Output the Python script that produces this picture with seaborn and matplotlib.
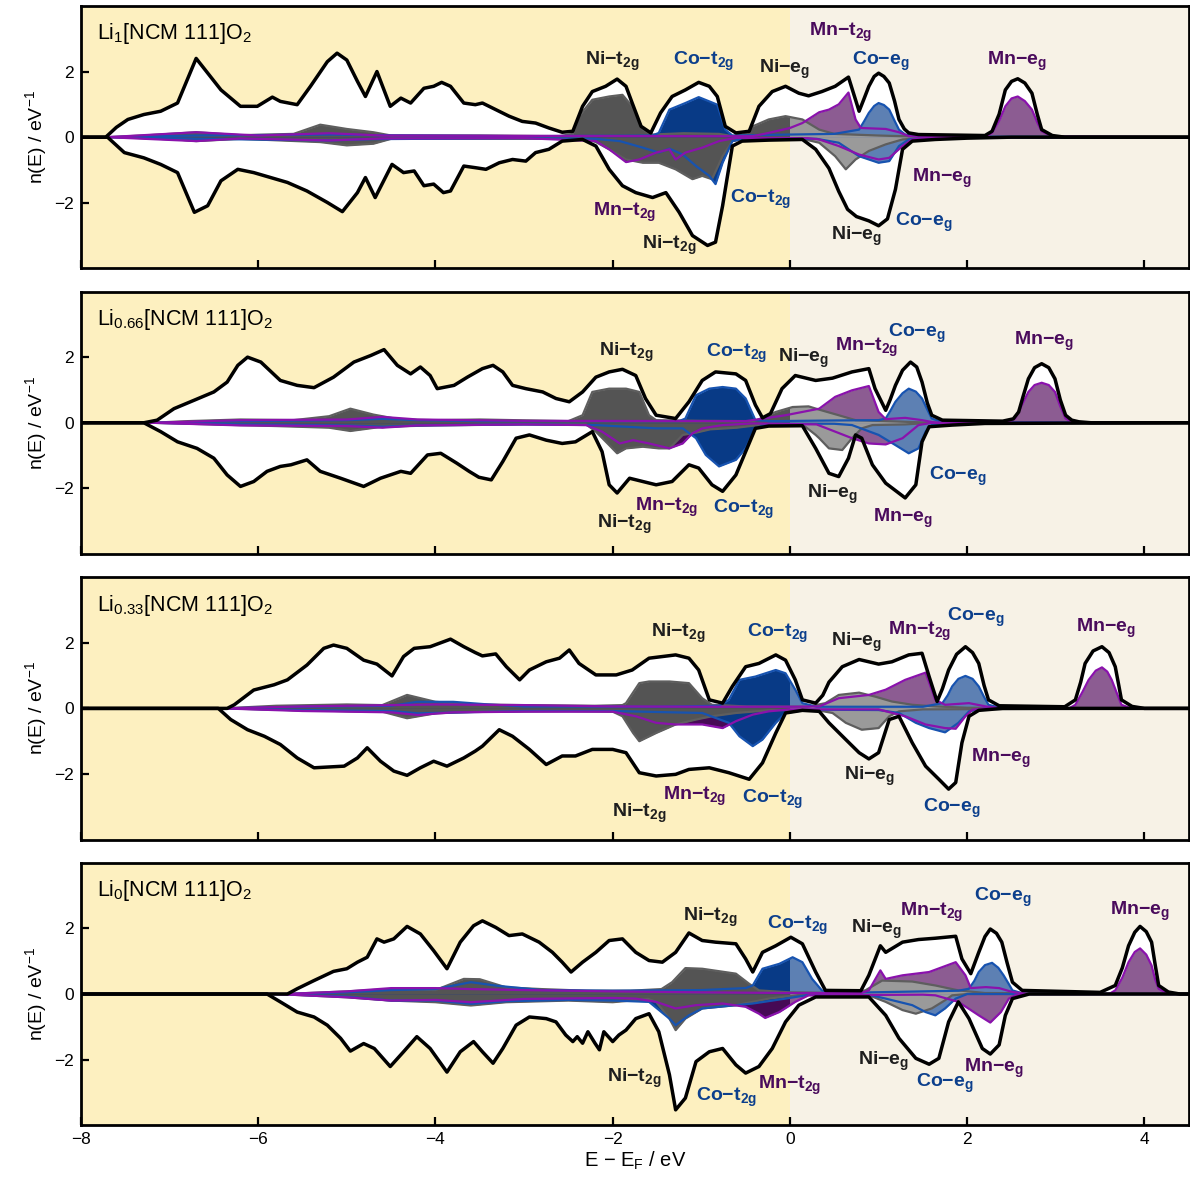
import numpy as np
import pandas as pd
import matplotlib
matplotlib.use("Agg")
import matplotlib.pyplot as plt
from matplotlib.patches import Rectangle
import seaborn as sns

# ---------------- data: (E - E_F, n(E)) pairs, spin-down stored as magnitude ----------------
# panel 1 : Li1
p1_tot_up = [(-8, 0), (-7.72, 0), (-7.6, 0.3), (-7.47, 0.54), (-7.29, 0.69), (-7.1, 0.79), (-6.91, 1.04), (-6.7, 2.4),
             (-6.42, 1.44), (-6.2, 0.94), (-6.01, 0.94), (-5.84, 1.22), (-5.75, 1.09), (-5.56, 0.99), (-5.41, 1.55),
             (-5.22, 2.3), (-5.11, 2.56), (-5.0, 2.35), (-4.88, 1.7), (-4.79, 1.24), (-4.66, 2.0), (-4.51, 0.94),
             (-4.39, 1.19), (-4.28, 1.04), (-4.13, 1.49), (-4.02, 1.55), (-3.93, 1.67), (-3.83, 1.55), (-3.68, 1.04),
             (-3.55, 0.99), (-3.47, 1.04), (-3.32, 0.84), (-3.17, 0.64), (-3.02, 0.48), (-2.87, 0.43), (-2.72, 0.28),
             (-2.57, 0.15), (-2.45, 0.18), (-2.34, 0.94), (-2.23, 1.39), (-2.08, 1.55), (-1.95, 1.77), (-1.85, 1.55),
             (-1.78, 1.04), (-1.68, 0.33), (-1.57, 0.13), (-1.46, 0.74), (-1.33, 1.24), (-1.18, 1.44), (-1.03, 1.67),
             (-0.91, 1.55), (-0.82, 1.24), (-0.73, 0.33), (-0.61, 0.13), (-0.46, 0.18), (-0.35, 0.94), (-0.2, 1.39),
             (-0.05, 1.55), (0.1, 1.34), (0.21, 1.26), (0.36, 1.39), (0.51, 1.55), (0.66, 1.83), (0.78, 0.79),
             (0.84, 1.2), (0.89, 1.55), (0.95, 1.85), (1.0, 1.95), (1.06, 1.85), (1.12, 1.65), (1.18, 1.1),
             (1.23, 0.54), (1.29, 0.25), (1.34, 0.13), (1.45, 0.08), (2.2, 0.05), (2.28, 0.18), (2.36, 0.7),
             (2.43, 1.44), (2.5, 1.7), (2.57, 1.78), (2.65, 1.65), (2.73, 1.34), (2.79, 0.7), (2.84, 0.23),
             (2.96, 0.05), (3.1, 0), (4.5, 0)]
p1_tot_dn = [(-8, 0), (-7.7, 0), (-7.51, 0.47), (-7.29, 0.63), (-7.1, 0.83), (-6.91, 1.08), (-6.72, 2.29), (-6.57, 2.09),
             (-6.42, 1.33), (-6.23, 0.98), (-6.05, 1.08), (-5.86, 1.23), (-5.67, 1.38), (-5.45, 1.64), (-5.22, 1.99),
             (-5.05, 2.27), (-4.88, 1.69), (-4.79, 1.23), (-4.68, 1.84), (-4.49, 0.83), (-4.36, 1.08), (-4.24, 1.03),
             (-4.13, 1.48), (-4.02, 1.43), (-3.91, 1.69), (-3.83, 1.64), (-3.68, 0.88), (-3.55, 0.93), (-3.43, 0.98),
             (-3.28, 0.78), (-3.13, 0.68), (-2.98, 0.73), (-2.87, 0.47), (-2.72, 0.37), (-2.57, 0.12), (-2.34, 0.07),
             (-2.19, 0.27), (-2.04, 0.98), (-1.89, 1.48), (-1.74, 1.69), (-1.55, 1.84), (-1.4, 1.69), (-1.25, 2.29),
             (-1.1, 3.0), (-0.93, 3.3), (-0.84, 3.2), (-0.76, 2.09), (-0.65, 0.27), (-0.54, 0.12), (-0.24, 0.09),
             (0.14, 0.07), (0.29, 0.37), (0.44, 0.95), (0.55, 1.65), (0.65, 2.2), (0.75, 2.42), (0.89, 2.55),
             (1.0, 2.7), (1.1, 2.49), (1.19, 1.59), (1.27, 0.37), (1.38, 0.12), (1.64, 0.07), (2.0, 0.03), (2.5, 0), (4.5, 0)]
p1_ni_up = [(-8, 0), (-7.7, 0), (-7.3, 0.05), (-6.7, 0.15), (-6.2, 0.06), (-5.6, 0.1), (-5.3, 0.38), (-5.0, 0.25),
            (-4.7, 0.15), (-4.5, 0.05), (-3.5, 0.05), (-2.6, 0.03), (-2.45, 0.1), (-2.38, 0.64), (-2.23, 1.14),
            (-2.04, 1.24), (-1.89, 1.29), (-1.78, 0.94), (-1.66, 0.23), (-1.55, 0.08), (-1.2, 0.12), (-0.8, 0.1),
            (-0.65, 0.03), (-0.5, 0.1), (-0.42, 0.33), (-0.24, 0.54), (-0.05, 0.64), (0.14, 0.54), (0.33, 0.23),
            (0.5, 0.1), (1.0, 0.05), (1.4, 0.02), (4.5, 0)]
p1_co_up = [(-8, 0), (-7.7, 0), (-6.7, 0.05), (-5.2, 0.08), (-4.7, 0.06), (-3, 0.03), (-1.55, 0.05), (-1.48, 0.13),
            (-1.36, 0.84), (-1.18, 1.04), (-1.03, 1.22), (-0.91, 1.09), (-0.82, 0.99), (-0.73, 0.23), (-0.65, 0.05),
            (0.0, 0.08), (0.5, 0.1), (0.78, 0.23), (0.84, 0.5), (0.89, 0.74), (0.95, 0.95), (1.0, 1.04),
            (1.06, 0.98), (1.12, 0.84), (1.18, 0.5), (1.23, 0.23), (1.3, 0.08), (1.5, 0.02), (4.5, 0)]
p1_mn_up = [(-8, 0), (-7.7, 0), (-6.7, 0.15), (-6.0, 0.05), (-5.2, 0.12), (-4.6, 0.05), (-3, 0.04), (-1, 0.03),
            (-0.42, 0.03), (-0.24, 0.13), (0.0, 0.28), (0.14, 0.43), (0.33, 0.76), (0.44, 0.84), (0.55, 1.0),
            (0.66, 1.36), (0.74, 0.54), (0.8, 0.28), (1.08, 0.25), (1.23, 0.15), (1.34, 0.03), (2.2, 0),
            (2.28, 0.13), (2.36, 0.5), (2.43, 0.94), (2.5, 1.18), (2.57, 1.24), (2.65, 1.1), (2.73, 0.84),
            (2.79, 0.45), (2.84, 0.18), (2.96, 0.02), (4.5, 0)]
p1_ni_dn = [(-8, 0), (-7.7, 0), (-7.0, 0.05), (-6.7, 0.12), (-6.2, 0.05), (-5.3, 0.15), (-5.0, 0.25), (-4.7, 0.2),
            (-4.5, 0.05), (-3, 0.05), (-2.3, 0.05), (-2.19, 0.15), (-2.04, 0.37), (-1.85, 0.68), (-1.66, 0.78),
            (-1.48, 0.78), (-1.29, 0.98), (-1.1, 1.28), (-0.99, 1.18), (-0.88, 1.28), (-0.76, 0.58), (-0.65, 0.12),
            (-0.5, 0.05), (0.14, 0.05), (0.33, 0.17), (0.51, 0.58), (0.63, 0.98), (0.74, 0.68), (0.89, 0.42),
            (1.08, 0.22), (1.27, 0.07), (1.5, 0.02), (4.5, 0)]
p1_co_dn = [(-8, 0), (-7.7, 0), (-6.7, 0.05), (-5.2, 0.1), (-4.7, 0.06), (-3, 0.03), (-2.2, 0.05), (-1.92, 0.12),
            (-1.66, 0.32), (-1.48, 0.47), (-1.36, 0.35), (-1.21, 0.53), (-1.06, 0.88), (-0.91, 1.18), (-0.84, 1.43),
            (-0.76, 0.78), (-0.65, 0.12), (-0.5, 0.03), (0.3, 0.05), (0.55, 0.17), (0.78, 0.58), (1.0, 0.78),
            (1.12, 0.73), (1.23, 0.27), (1.34, 0.07), (1.5, 0.02), (4.5, 0)]
p1_mn_dn = [(-8, 0), (-7.7, 0), (-6.7, 0.12), (-6.2, 0.04), (-5.2, 0.1), (-4.6, 0.04), (-3, 0.03), (-2.19, 0.12),
            (-2.04, 0.37), (-1.85, 0.76), (-1.7, 0.68), (-1.51, 0.47), (-1.36, 0.37), (-1.29, 0.68), (-1.18, 0.47),
            (-0.99, 0.32), (-0.8, 0.12), (-0.61, 0.02), (0.2, 0.03), (0.33, 0.07), (0.55, 0.27), (0.78, 0.53),
            (1.0, 0.68), (1.12, 0.63), (1.27, 0.27), (1.38, 0.07), (1.6, 0), (4.5, 0)]

# panel 2 : Li0.66
p2_tot_up = [(-8, 0), (-7.29, 0), (-7.14, 0.08), (-6.95, 0.43), (-6.72, 0.69), (-6.5, 0.94), (-6.35, 1.24),
             (-6.23, 1.75), (-6.12, 2.0), (-5.97, 1.85), (-5.75, 1.29), (-5.56, 1.14), (-5.37, 1.07), (-5.15, 1.39),
             (-4.92, 1.85), (-4.73, 2.05), (-4.58, 2.23), (-4.43, 1.75), (-4.28, 1.49), (-4.17, 1.7), (-4.06, 1.44),
             (-3.98, 1.04), (-3.79, 1.14), (-3.64, 1.39), (-3.47, 1.65), (-3.35, 1.75), (-3.24, 1.55), (-3.13, 1.14),
             (-2.98, 1.04), (-2.79, 0.94), (-2.64, 0.74), (-2.49, 0.64), (-2.34, 0.94), (-2.19, 1.39), (-2.04, 1.55),
             (-1.89, 1.63), (-1.74, 1.44), (-1.63, 0.74), (-1.51, 0.23), (-1.29, 0.13), (-1.14, 0.64), (-0.99, 1.29),
             (-0.84, 1.55), (-0.61, 1.49), (-0.5, 1.29), (-0.39, 0.54), (-0.31, 0.15), (-0.22, 0.28), (-0.09, 1.04),
             (0.06, 1.44), (0.29, 1.29), (0.48, 1.36), (0.7, 1.55), (0.89, 1.65), (0.96, 1.04), (1.08, 0.38),
             (1.13, 0.7), (1.19, 1.14), (1.27, 1.6), (1.36, 1.85), (1.43, 1.7), (1.49, 1.24), (1.55, 0.6),
             (1.6, 0.23), (1.72, 0.08), (2.4, 0.05), (2.52, 0.12), (2.58, 0.33), (2.63, 0.8), (2.69, 1.34),
             (2.76, 1.68), (2.84, 1.8), (2.92, 1.68), (2.99, 1.34), (3.05, 0.7), (3.11, 0.23), (3.18, 0.08),
             (3.26, 0.03), (3.4, 0), (4.5, 0)]
p2_tot_dn = [(-8, 0), (-7.29, 0), (-7.1, 0.27), (-6.91, 0.58), (-6.69, 0.78), (-6.5, 1.08), (-6.35, 1.59), (-6.2, 1.94),
             (-6.05, 1.79), (-5.9, 1.48), (-5.75, 1.33), (-5.63, 1.28), (-5.45, 1.13), (-5.3, 1.48), (-5.07, 1.69),
             (-4.81, 1.94), (-4.62, 1.69), (-4.39, 1.48), (-4.28, 1.54), (-4.09, 0.98), (-3.94, 0.93), (-3.76, 1.23),
             (-3.62, 1.48), (-3.51, 1.66), (-3.37, 1.74), (-3.24, 1.18), (-3.09, 0.47), (-2.94, 0.37), (-2.75, 0.53),
             (-2.57, 0.63), (-2.42, 0.58), (-2.23, 0.27), (-2.12, 0.88), (-2.04, 1.89), (-1.95, 2.14), (-1.81, 1.69),
             (-1.66, 1.79), (-1.51, 1.89), (-1.33, 1.79), (-1.14, 1.28), (-1.03, 1.38), (-0.88, 1.89), (-0.76, 2.09),
             (-0.61, 1.59), (-0.5, 0.88), (-0.39, 0.17), (-0.24, 0.1), (0.14, 0.09), (0.29, 0.78), (0.44, 1.54),
             (0.55, 1.64), (0.66, 1.08), (0.74, 0.37), (0.81, 0.47), (0.93, 1.28), (1.08, 1.84), (1.3, 2.29),
             (1.42, 1.89), (1.49, 0.58), (1.57, 0.12), (1.83, 0.07), (2.2, 0.02), (4.5, 0)]
p2_ni_up = [(-8, 0), (-7.2, 0), (-6.8, 0.05), (-6.2, 0.1), (-5.6, 0.08), (-5.2, 0.2), (-4.96, 0.43), (-4.7, 0.25),
            (-4.4, 0.1), (-4.0, 0.08), (-3.5, 0.1), (-2.5, 0.05), (-2.34, 0.23), (-2.23, 0.94), (-2.04, 1.04),
            (-1.85, 1.04), (-1.7, 0.94), (-1.59, 0.23), (-1.51, 0.08), (-1.0, 0.06), (-0.4, 0.05), (-0.16, 0.33),
            (0.03, 0.48), (0.21, 0.5), (0.33, 0.4), (0.55, 0.23), (0.74, 0.08), (1.2, 0.04), (1.6, 0), (4.5, 0)]
p2_co_up = [(-8, 0), (-7.2, 0), (-6.2, 0.05), (-5.0, 0.08), (-4.6, 0.12), (-4.2, 0.08), (-3.5, 0.05), (-1.25, 0.05),
            (-1.18, 0.13), (-1.06, 0.84), (-0.91, 1.04), (-0.76, 1.09), (-0.61, 1.04), (-0.5, 0.74), (-0.39, 0.08),
            (-0.2, 0.05), (0.5, 0.07), (1.0, 0.08), (1.08, 0.13), (1.13, 0.35), (1.19, 0.64), (1.27, 0.9),
            (1.34, 1.04), (1.42, 0.95), (1.49, 0.74), (1.55, 0.4), (1.6, 0.13), (1.72, 0.02), (4.5, 0)]
p2_mn_up = [(-8, 0), (-7.2, 0), (-6.2, 0.08), (-5.0, 0.1), (-4.6, 0.18), (-4.2, 0.1), (-3.0, 0.06), (-0.5, 0.05),
            (-0.05, 0.23), (0.33, 0.43), (0.51, 0.79), (0.7, 0.99), (0.89, 1.12), (1.0, 0.33), (1.08, 0.11),
            (1.3, 0.15), (1.49, 0.08), (1.65, 0), (2.45, 0), (2.54, 0.13), (2.6, 0.45), (2.69, 0.94), (2.76, 1.15),
            (2.84, 1.22), (2.92, 1.15), (2.99, 0.94), (3.05, 0.5), (3.11, 0.13), (3.2, 0), (4.5, 0)]
p2_ni_dn = [(-8, 0), (-7.2, 0), (-6.5, 0.05), (-5.8, 0.1), (-5.2, 0.15), (-4.96, 0.25), (-4.6, 0.12), (-4.0, 0.08),
            (-3.0, 0.05), (-2.3, 0.05), (-2.19, 0.27), (-2.04, 0.68), (-1.95, 0.93), (-1.85, 0.78), (-1.66, 0.73),
            (-1.48, 0.78), (-1.36, 0.78), (-1.21, 0.37), (-1.06, 0.3), (-0.9, 0.2), (-0.6, 0.15), (-0.39, 0.08),
            (-0.2, 0.03), (0.14, 0.05), (0.29, 0.37), (0.33, 0.47), (0.44, 0.78), (0.59, 0.83), (0.7, 0.47),
            (0.81, 0.17), (0.93, 0.07), (1.3, 0.05), (1.6, 0), (4.5, 0)]
p2_co_dn = [(-8, 0), (-7.2, 0), (-6.2, 0.05), (-5.0, 0.08), (-4.6, 0.12), (-4.2, 0.08), (-3.0, 0.05), (-2.19, 0.07),
            (-1.85, 0.12), (-1.51, 0.17), (-1.21, 0.17), (-1.06, 0.47), (-0.95, 0.98), (-0.8, 1.33), (-0.61, 1.13),
            (-0.5, 0.78), (-0.39, 0.17), (-0.24, 0.02), (0.5, 0.03), (0.7, 0.07), (1.0, 0.37), (1.19, 0.68),
            (1.34, 0.93), (1.45, 0.78), (1.53, 0.27), (1.6, 0.07), (1.8, 0), (4.5, 0)]
p2_mn_dn = [(-8, 0), (-7.2, 0), (-6.2, 0.08), (-5.0, 0.1), (-4.6, 0.15), (-4.2, 0.08), (-3.0, 0.05), (-2.3, 0.07),
            (-2.12, 0.27), (-1.92, 0.63), (-1.77, 0.53), (-1.59, 0.63), (-1.36, 0.78), (-1.21, 0.63), (-1.1, 0.32),
            (-0.99, 0.17), (-0.76, 0.07), (-0.42, 0.02), (0.3, 0.05), (0.51, 0.27), (0.7, 0.47), (0.89, 0.63),
            (1.08, 0.66), (1.27, 0.47), (1.45, 0.07), (1.6, 0), (4.5, 0)]

# panel 3 : Li0.33
p3_tot_up = [(-8, 0), (-6.35, 0), (-6.27, 0.11), (-6.05, 0.56), (-5.82, 0.72), (-5.67, 0.87), (-5.45, 1.32),
             (-5.26, 1.83), (-5.15, 1.93), (-5.0, 1.83), (-4.81, 1.47), (-4.66, 1.35), (-4.49, 0.99), (-4.36, 1.58),
             (-4.24, 1.83), (-4.06, 1.88), (-3.83, 2.11), (-3.68, 1.88), (-3.55, 1.7), (-3.47, 1.6), (-3.32, 1.66),
             (-3.2, 1.27), (-3.05, 0.87), (-2.94, 1.17), (-2.75, 1.42), (-2.6, 1.53), (-2.49, 1.78), (-2.38, 1.37),
             (-2.19, 1.02), (-1.96, 1.02), (-1.78, 1.17), (-1.59, 1.53), (-1.29, 1.63), (-1.14, 1.53), (-1.03, 1.17),
             (-0.91, 0.26), (-0.76, 0.16), (-0.65, 0.67), (-0.5, 1.27), (-0.35, 1.37), (-0.16, 1.63), (-0.05, 1.47),
             (0.06, 0.87), (0.14, 0.26), (0.29, 0.16), (0.37, 0.4), (0.44, 0.8), (0.59, 1.27), (0.78, 1.49),
             (1.0, 1.35), (1.15, 1.42), (1.34, 1.63), (1.49, 1.68), (1.57, 0.97), (1.66, 0.21), (1.72, 0.6),
             (1.79, 1.17), (1.88, 1.65), (1.98, 1.88), (2.06, 1.7), (2.13, 1.37), (2.19, 0.7), (2.24, 0.26),
             (2.36, 0.08), (3.1, 0.05), (3.22, 0.26), (3.28, 0.8), (3.33, 1.37), (3.42, 1.75), (3.52, 1.88),
             (3.6, 1.7), (3.67, 1.27), (3.71, 0.7), (3.74, 0.26), (3.86, 0.06), (4.0, 0), (4.5, 0)]
p3_tot_dn = [(-8, 0), (-6.45, 0), (-6.31, 0.34), (-6.12, 0.65), (-5.93, 0.85), (-5.75, 1.1), (-5.56, 1.51),
             (-5.37, 1.81), (-5.03, 1.76), (-4.88, 1.51), (-4.77, 1.2), (-4.62, 1.61), (-4.47, 1.91), (-4.32, 2.04),
             (-4.17, 1.81), (-4.02, 1.61), (-3.87, 1.76), (-3.68, 1.51), (-3.55, 1.3), (-3.47, 1.15), (-3.28, 0.65),
             (-3.13, 0.85), (-2.94, 1.25), (-2.75, 1.71), (-2.57, 1.45), (-2.42, 1.45), (-2.23, 1.25), (-2.0, 1.25),
             (-1.85, 1.35), (-1.7, 1.96), (-1.51, 2.06), (-1.29, 2.01), (-1.14, 1.86), (-0.91, 1.81), (-0.69, 1.96),
             (-0.46, 2.16), (-0.31, 1.66), (-0.16, 0.75), (-0.05, 0.14), (0.14, 0.06), (0.33, 0.09), (0.44, 0.44),
             (0.63, 0.95), (0.78, 1.35), (0.89, 1.54), (1.0, 1.35), (1.12, 0.34), (1.23, 0.24), (1.38, 1.05),
             (1.53, 1.76), (1.68, 2.16), (1.79, 2.46), (1.87, 2.26), (1.94, 1.05), (2.02, 0.24), (2.13, 0.06),
             (2.4, 0), (4.5, 0)]
p3_ni_up = [(-8, 0), (-6.4, 0), (-5.8, 0.08), (-5.0, 0.12), (-4.6, 0.1), (-4.32, 0.41), (-4.0, 0.2), (-3.6, 0.12),
            (-3.0, 0.1), (-2.2, 0.08), (-1.89, 0.1), (-1.85, 0.16), (-1.7, 0.77), (-1.59, 0.82), (-1.36, 0.82),
            (-1.14, 0.77), (-0.99, 0.31), (-0.88, 0.11), (-0.5, 0.06), (0.2, 0.05), (0.4, 0.16), (0.55, 0.41),
            (0.78, 0.48), (0.96, 0.36), (1.15, 0.21), (1.38, 0.11), (1.64, 0.06), (2.0, 0.02), (4.5, 0)]
p3_co_up = [(-8, 0), (-6.4, 0), (-5.5, 0.05), (-4.5, 0.08), (-4.2, 0.2), (-3.8, 0.2), (-3.4, 0.12), (-3.0, 0.06),
            (-1.5, 0.05), (-0.8, 0.08), (-0.69, 0.26), (-0.57, 0.87), (-0.39, 0.97), (-0.16, 1.17), (-0.05, 1.07),
            (0.06, 0.57), (0.14, 0.16), (0.3, 0.05), (1.0, 0.05), (1.5, 0.05), (1.72, 0.16), (1.78, 0.4),
            (1.83, 0.67), (1.9, 0.9), (1.98, 0.99), (2.06, 0.9), (2.13, 0.67), (2.19, 0.35), (2.24, 0.11),
            (2.4, 0), (4.5, 0)]
p3_mn_up = [(-8, 0), (-6.4, 0), (-5.5, 0.06), (-4.5, 0.1), (-4.0, 0.12), (-3.0, 0.1), (-2.0, 0.06), (-1.0, 0.05),
            (0.0, 0.05), (0.33, 0.06), (0.55, 0.31), (0.89, 0.41), (1.08, 0.57), (1.3, 0.87), (1.53, 1.09),
            (1.64, 0.26), (1.75, 0.11), (2.02, 0.16), (2.21, 0.06), (2.4, 0), (3.15, 0), (3.22, 0.11), (3.3, 0.5),
            (3.37, 0.87), (3.45, 1.15), (3.52, 1.25), (3.58, 1.12), (3.63, 0.87), (3.69, 0.45), (3.74, 0.11),
            (3.85, 0), (4.5, 0)]
p3_ni_dn = [(-8, 0), (-6.4, 0), (-5.5, 0.06), (-4.6, 0.1), (-4.32, 0.3), (-4.0, 0.15), (-3.5, 0.1), (-2.5, 0.08),
            (-2.0, 0.1), (-1.89, 0.24), (-1.77, 0.75), (-1.7, 1.0), (-1.51, 0.75), (-1.29, 0.49), (-1.06, 0.34),
            (-0.88, 0.24), (-0.61, 0.14), (-0.2, 0.05), (0.3, 0.05), (0.48, 0.14), (0.63, 0.44), (0.81, 0.65),
            (1.0, 0.6), (1.12, 0.24), (1.23, 0.09), (1.5, 0.03), (4.5, 0)]
p3_co_dn = [(-8, 0), (-6.4, 0), (-5.5, 0.05), (-4.5, 0.08), (-4.2, 0.15), (-3.7, 0.12), (-3.0, 0.08), (-2.0, 0.08),
            (-0.99, 0.14), (-0.69, 0.44), (-0.57, 0.85), (-0.42, 1.15), (-0.31, 0.95), (-0.16, 0.44), (-0.05, 0.14),
            (0.2, 0.04), (1.0, 0.05), (1.23, 0.14), (1.42, 0.44), (1.57, 0.6), (1.75, 0.73), (1.9, 0.44),
            (2.02, 0.09), (2.2, 0), (4.5, 0)]
p3_mn_dn = [(-8, 0), (-6.4, 0), (-5.5, 0.08), (-4.5, 0.12), (-4.2, 0.2), (-3.8, 0.12), (-3.0, 0.1), (-2.0, 0.1),
            (-1.74, 0.24), (-1.51, 0.44), (-1.29, 0.49), (-0.99, 0.49), (-0.76, 0.6), (-0.61, 0.39), (-0.42, 0.19),
            (-0.24, 0.09), (0.0, 0.03), (1.0, 0.03), (1.3, 0.24), (1.53, 0.49), (1.75, 0.6), (1.87, 0.62),
            (1.98, 0.24), (2.06, 0.04), (2.2, 0), (4.5, 0)]

# panel 4 : Li0
p4_tot_up = [(-8, 0), (-5.67, 0), (-5.56, 0.16), (-5.37, 0.41), (-5.15, 0.69), (-5.0, 0.77), (-4.88, 0.97),
             (-4.77, 1.12), (-4.66, 1.68), (-4.58, 1.58), (-4.47, 1.68), (-4.32, 2.06), (-4.17, 1.83), (-4.02, 1.32),
             (-3.87, 0.77), (-3.72, 1.58), (-3.57, 2.08), (-3.47, 2.23), (-3.32, 2.03), (-3.17, 1.78), (-3.02, 1.83),
             (-2.83, 1.58), (-2.68, 1.27), (-2.57, 0.97), (-2.47, 0.67), (-2.34, 0.97), (-2.19, 1.27), (-2.04, 1.63),
             (-1.89, 1.68), (-1.74, 1.27), (-1.59, 1.02), (-1.44, 0.97), (-1.29, 1.27), (-1.14, 1.86), (-0.99, 1.63),
             (-0.84, 1.58), (-0.61, 1.53), (-0.5, 1.07), (-0.42, 0.67), (-0.31, 1.27), (-0.16, 1.47), (0.01, 1.73),
             (0.14, 1.53), (0.29, 0.67), (0.4, 0.11), (0.8, 0.1), (0.89, 0.57), (1.02, 1.47), (1.08, 1.27),
             (1.27, 1.58), (1.45, 1.66), (1.64, 1.7), (1.87, 1.76), (1.94, 1.07), (2.04, 0.62), (2.13, 1.27),
             (2.2, 1.75), (2.26, 1.98), (2.33, 1.85), (2.39, 1.58), (2.45, 0.95), (2.51, 0.36), (2.62, 0.11),
             (3.5, 0.05), (3.67, 0.26), (3.75, 0.8), (3.82, 1.47), (3.89, 1.88), (3.95, 2.06), (4.02, 1.9),
             (4.08, 1.58), (4.12, 0.9), (4.16, 0.26), (4.27, 0.06), (4.4, 0), (4.5, 0)]
p4_tot_dn = [(-8, 0), (-5.9, 0), (-5.75, 0.24), (-5.56, 0.55), (-5.37, 0.7), (-5.22, 0.95), (-5.07, 1.35),
             (-4.96, 1.74), (-4.81, 1.51), (-4.69, 1.66), (-4.51, 2.21), (-4.36, 1.76), (-4.21, 1.3), (-4.06, 1.66),
             (-3.87, 2.38), (-3.72, 1.76), (-3.57, 1.45), (-3.47, 1.76), (-3.35, 2.11), (-3.24, 1.66), (-3.09, 0.95),
             (-2.94, 0.7), (-2.75, 0.75), (-2.64, 0.85), (-2.53, 1.25), (-2.45, 1.45), (-2.4, 1.3), (-2.34, 1.5),
             (-2.28, 1.15), (-2.2, 1.5), (-2.15, 1.7), (-2.1, 1.15), (-2.05, 1.3), (-2.0, 1.45), (-1.93, 1.25),
             (-1.85, 1.1), (-1.74, 0.75), (-1.59, 0.6), (-1.48, 1.15), (-1.36, 2.46), (-1.29, 3.53), (-1.18, 3.17),
             (-1.06, 2.06), (-0.91, 1.76), (-0.76, 1.66), (-0.61, 2.16), (-0.5, 2.41), (-0.35, 2.21), (-0.2, 1.66),
             (-0.05, 0.85), (0.1, 0.34), (0.29, 0.09), (0.89, 0.09), (1.08, 0.65), (1.23, 1.35), (1.42, 1.96),
             (1.57, 2.14), (1.68, 1.96), (1.79, 0.85), (1.9, 0.24), (2.02, 0.75), (2.17, 1.66), (2.26, 1.83),
             (2.36, 1.55), (2.43, 0.65), (2.51, 0.14), (2.7, 0), (4.5, 0)]
p4_ni_up = [(-8, 0), (-5.7, 0), (-5.0, 0.08), (-4.5, 0.15), (-4.0, 0.12), (-3.68, 0.46), (-3.5, 0.45), (-3.2, 0.2),
            (-2.8, 0.15), (-2.3, 0.1), (-1.8, 0.1), (-1.45, 0.15), (-1.33, 0.36), (-1.18, 0.79), (-0.99, 0.77),
            (-0.61, 0.62), (-0.46, 0.31), (-0.35, 0.11), (0.0, 0.05), (0.6, 0.03), (0.85, 0.11), (1.04, 0.41),
            (1.38, 0.38), (1.64, 0.26), (1.9, 0.11), (2.2, 0.03), (4.5, 0)]
p4_co_up = [(-8, 0), (-5.7, 0), (-5.0, 0.05), (-4.5, 0.12), (-4.0, 0.15), (-3.6, 0.36), (-3.3, 0.25), (-2.8, 0.12),
            (-2.0, 0.1), (-1.0, 0.12), (-0.5, 0.18), (-0.42, 0.26), (-0.31, 0.77), (-0.12, 0.92), (0.03, 1.12),
            (0.14, 0.97), (0.25, 0.46), (0.36, 0.11), (0.5, 0.03), (0.9, 0.05), (1.5, 0.08), (1.9, 0.1),
            (2.02, 0.16), (2.08, 0.4), (2.13, 0.67), (2.2, 0.88), (2.28, 0.95), (2.35, 0.8), (2.41, 0.57),
            (2.47, 0.3), (2.51, 0.11), (2.65, 0), (4.5, 0)]
p4_mn_up = [(-8, 0), (-5.7, 0), (-5.0, 0.08), (-4.5, 0.18), (-4.0, 0.18), (-3.6, 0.15), (-3.0, 0.12), (-2.0, 0.08),
            (-1.0, 0.05), (0.0, 0.03), (0.8, 0.03), (0.89, 0.11), (1.02, 0.72), (1.08, 0.46), (1.27, 0.57),
            (1.57, 0.67), (1.87, 0.97), (1.98, 0.57), (2.04, 0.18), (2.21, 0.21), (2.36, 0.18), (2.51, 0.06),
            (2.7, 0), (3.6, 0), (3.67, 0.11), (3.75, 0.5), (3.82, 0.97), (3.89, 1.28), (3.95, 1.39), (4.02, 1.2),
            (4.08, 0.87), (4.12, 0.45), (4.16, 0.16), (4.27, 0), (4.5, 0)]
p4_ni_dn = [(-8, 0), (-5.8, 0), (-5.0, 0.1), (-4.5, 0.2), (-4.0, 0.25), (-3.6, 0.35), (-3.2, 0.25), (-2.5, 0.2),
            (-2.0, 0.25), (-1.6, 0.15), (-1.51, 0.24), (-1.36, 0.75), (-1.29, 1.1), (-1.18, 0.75), (-0.99, 0.44),
            (-0.61, 0.34), (-0.24, 0.14), (0.1, 0.03), (0.89, 0.04), (1.08, 0.24), (1.27, 0.49), (1.42, 0.6),
            (1.6, 0.44), (1.75, 0.19), (1.83, 0.04), (2.0, 0), (4.5, 0)]
p4_co_dn = [(-8, 0), (-5.8, 0), (-5.0, 0.08), (-4.5, 0.2), (-4.0, 0.2), (-3.6, 0.3), (-3.2, 0.22), (-2.5, 0.18),
            (-2.0, 0.2), (-1.59, 0.24), (-1.36, 0.75), (-1.29, 0.95), (-1.14, 0.65), (-0.99, 0.44), (-0.61, 0.34),
            (-0.42, 0.29), (-0.05, 0.14), (0.2, 0.03), (0.9, 0.03), (1.08, 0.14), (1.38, 0.34), (1.53, 0.55),
            (1.64, 0.65), (1.75, 0.44), (1.87, 0.14), (2.0, 0), (4.5, 0)]
p4_mn_dn = [(-8, 0), (-5.8, 0), (-5.0, 0.1), (-4.5, 0.2), (-4.0, 0.18), (-3.6, 0.25), (-3.0, 0.15), (-2.0, 0.12),
            (-1.74, 0.14), (-1.51, 0.24), (-1.29, 0.44), (-1.06, 0.34), (-0.76, 0.29), (-0.5, 0.39), (-0.35, 0.6),
            (-0.28, 0.73), (-0.12, 0.55), (0.06, 0.24), (0.21, 0.04), (1.5, 0.02), (1.64, 0.04), (1.9, 0.24),
            (2.13, 0.65), (2.26, 0.87), (2.38, 0.55), (2.47, 0.14), (2.54, 0.04), (2.7, 0), (4.5, 0)]

titles = [r"Li$_{1}$[NCM 111]O$_{2}$", r"Li$_{0.66}$[NCM 111]O$_{2}$",
          r"Li$_{0.33}$[NCM 111]O$_{2}$", r"Li$_{0}$[NCM 111]O$_{2}$"]

# orbital labels: (element, orbital, E, n)
p1_labels = [("Ni", "t", -2.01, 2.3), ("Co", "t", -0.97, 2.3), ("Ni", "e", -0.06, 2.05), ("Mn", "t", 0.57, 3.2),
             ("Co", "e", 1.03, 2.3), ("Mn", "e", 2.56, 2.3), ("Mn", "t", -1.87, -2.3), ("Co", "t", -0.33, -1.9),
             ("Ni", "t", -1.36, -3.3), ("Mn", "e", 1.71, -1.25), ("Co", "e", 1.51, -2.6), ("Ni", "e", 0.75, -3.02)]
p2_labels = [("Ni", "t", -1.85, 2.15), ("Co", "t", -0.6, 2.1), ("Ni", "e", 0.15, 1.95), ("Mn", "t", 0.86, 2.3),
             ("Co", "e", 1.43, 2.73), ("Mn", "e", 2.87, 2.48), ("Mn", "t", -1.39, -2.58), ("Co", "t", -0.52, -2.64),
             ("Ni", "t", -1.87, -3.1), ("Ni", "e", 0.48, -2.18), ("Co", "e", 1.89, -1.62), ("Mn", "e", 1.28, -2.9)]
p3_labels = [("Ni", "t", -1.26, 2.3), ("Co", "t", -0.14, 2.28), ("Ni", "e", 0.75, 2.0), ("Mn", "t", 1.46, 2.36),
             ("Co", "e", 2.1, 2.76), ("Mn", "e", 3.56, 2.45), ("Ni", "e", 0.9, -2.06), ("Mn", "e", 2.38, -1.52),
             ("Co", "e", 1.83, -3.05), ("Mn", "t", -1.08, -2.67), ("Co", "t", -0.2, -2.76), ("Ni", "t", -1.7, -3.2)]
p4_labels = [("Ni", "t", -0.9, 2.33), ("Co", "t", 0.09, 2.1), ("Ni", "e", 0.98, 1.97), ("Mn", "t", 1.6, 2.48),
             ("Co", "e", 2.4, 2.94), ("Mn", "e", 3.95, 2.52), ("Ni", "t", -1.76, -2.58), ("Co", "t", -0.72, -3.14),
             ("Mn", "t", 0.0, -2.79), ("Ni", "e", 1.06, -2.06), ("Co", "e", 1.75, -2.73), ("Mn", "e", 2.3, -2.27)]

panels = [
    (p1_tot_up, p1_tot_dn, p1_ni_up, p1_ni_dn, p1_co_up, p1_co_dn, p1_mn_up, p1_mn_dn, p1_labels),
    (p2_tot_up, p2_tot_dn, p2_ni_up, p2_ni_dn, p2_co_up, p2_co_dn, p2_mn_up, p2_mn_dn, p2_labels),
    (p3_tot_up, p3_tot_dn, p3_ni_up, p3_ni_dn, p3_co_up, p3_co_dn, p3_mn_up, p3_mn_dn, p3_labels),
    (p4_tot_up, p4_tot_dn, p4_ni_up, p4_ni_dn, p4_co_up, p4_co_dn, p4_mn_up, p4_mn_dn, p4_labels),
]

# ---------------- style ----------------
sns.set_theme(style="ticks")
plt.rcParams["font.family"] = ["Liberation Sans", "DejaVu Sans"]
plt.rcParams["mathtext.fontset"] = "custom"
plt.rcParams["mathtext.rm"] = "Liberation Sans"
plt.rcParams["mathtext.it"] = "Liberation Sans:italic"
plt.rcParams["mathtext.bf"] = "Liberation Sans:bold"
for key in ["text.color", "axes.labelcolor", "xtick.color", "ytick.color", "axes.edgecolor"]:
    plt.rcParams[key] = "black"

bg_occ = "#fdf0c0"
bg_unocc = "#f7f2e6"
# (fill below E_F, fill above E_F, line)
colors = {
    "Ni": ("#545454", "#9a9a9a", "#5e5e5e"),
    "Co": ("#083a86", "#5d80b3", "#1753b0"),
    "Mn": ("#460a55", "#8c5c92", "#8a12ac"),
}
label_colors = {"Ni": "#1e1e1e", "Co": "#0c3f8c", "Mn": "#4a0b5c"}


def to_df(pairs, sign=1):
    df = pd.DataFrame(pairs, columns=["E", "n"])
    df["n"] = sign * df["n"]
    return df


def split_fill(ax, df, fill_dark, fill_light, z):
    # dark colour left of E_F, light colour right of E_F
    for col, x0, w in [(fill_dark, -10, 10), (fill_light, 0, 10)]:
        coll = ax.fill_between(df["E"], 0, df["n"], color=col, lw=0, zorder=z)
        coll.set_clip_path(Rectangle((x0, -10), w, 20, transform=ax.transData))


fig, axes = plt.subplots(4, 1, figsize=(11.9, 11.82), dpi=100, sharex=True)
fig.subplots_adjust(left=0.068, right=0.999, top=0.995, bottom=0.048, hspace=0.088)

for ax, pdata, title in zip(axes, panels, titles):
    tot_up, tot_dn, ni_up, ni_dn, co_up, co_dn, mn_up, mn_dn, labels = pdata
    ax.axvspan(-8, 0, color=bg_occ, lw=0, zorder=0)
    ax.axvspan(0, 4.5, color=bg_unocc, lw=0, zorder=0)

    up = to_df(tot_up)
    dn = to_df(tot_dn, -1)
    ax.fill_between(up["E"], 0, up["n"], color="white", lw=0, zorder=1)
    ax.fill_between(dn["E"], dn["n"], 0, color="white", lw=0, zorder=1)

    parts = [("Mn", mn_up, mn_dn, 2), ("Co", co_up, co_dn, 3), ("Ni", ni_up, ni_dn, 4)]
    for el, pu, pd_, z in parts:
        dark, light, _ = colors[el]
        split_fill(ax, to_df(pu), dark, light, z)
        split_fill(ax, to_df(pd_, -1), dark, light, z)

    for el, pu, pd_, z in [("Ni", ni_up, ni_dn, 5), ("Co", co_up, co_dn, 6), ("Mn", mn_up, mn_dn, 7)]:
        lc = colors[el][2]
        for df in (to_df(pu), to_df(pd_, -1)):
            sns.lineplot(data=df, x="E", y="n", ax=ax, color=lc, lw=1.6, sort=False,
                         estimator=None, zorder=z)

    for df in (up, dn):
        sns.lineplot(data=df, x="E", y="n", ax=ax, color="black", lw=2.5, sort=False,
                     estimator=None, zorder=8)

    for el, orb, xe, yn in labels:
        sub = r"$_\mathbf{2g}$" if orb == "t" else r"$_\mathbf{g}$"
        ax.text(xe, yn, f"{el}\u2212{orb}" + sub, color=label_colors[el], fontsize=14,
                fontweight="bold", ha="center", va="center", zorder=10)

    ax.text(-7.82, 3.15, title, fontsize=15.5, ha="left", va="center", zorder=10)

    ax.set_xlim(-8, 4.5)
    ax.set_ylim(-4, 4)
    ax.set_yticks([-2, 0, 2])
    ax.set_xticks([-8, -6, -4, -2, 0, 2, 4])
    ax.set_ylabel(r"n(E) / eV$^{-1}$", fontsize=14, labelpad=4)
    ax.set_xlabel("")
    ax.tick_params(direction="in", length=6, width=1.6, labelsize=12.5, pad=5)
    for sp in ax.spines.values():
        sp.set_linewidth(2.0)
        sp.set_zorder(12)
        sp.set_visible(True)

axes[-1].set_xlabel(r"E $-$ E$_\mathrm{F}$ / eV", fontsize=14.5, labelpad=2)

fig.savefig("out.png", dpi=100)
